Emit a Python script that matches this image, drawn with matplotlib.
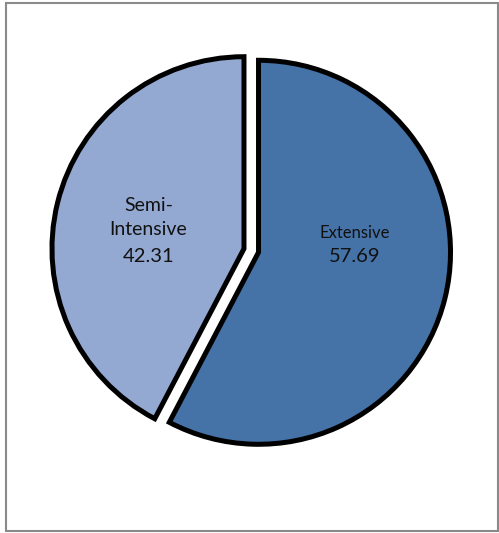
import matplotlib
matplotlib.use("Agg")
import matplotlib.pyplot as plt
from matplotlib.patches import Rectangle

# Share of farms by production system (%)
categories = ["Extensive", "Semi-Intensive"]
display_names = ["Extensive", "Semi-\nIntensive"]
values = [57.69, 42.31]
colors = ["#4572a7", "#94a9d2"]

W, H = 499, 533
fig = plt.figure(figsize=(W / 100, H / 100), dpi=100)
ax = fig.add_axes([0, 0, 1, 1])

cx, cy, R = 251.25, H - 250.5, 192.0
gap = 0.039 * R  # pull each slice slightly away from the centre
wedges, _ = ax.pie(
    values,
    colors=colors,
    startangle=90,
    counterclock=False,
    explode=[gap, gap],
    center=(cx, cy),
    radius=R,
    wedgeprops=dict(edgecolor="black", linewidth=3.6, joinstyle="miter"),
)

ax.set_xlim(0, W)
ax.set_ylim(0, H)
ax.set_aspect("equal")
ax.axis("off")

font = "Lato"
# label positions (relative to pie centre, in radius units)
name_pos = [(0.540, 0.091), (-0.535, 0.172)]
value_pos = [(0.540, -0.033), (-0.535, -0.029)]
name_sizes = [12, 14]
value_sizes = [14.5, 14.5]
for name, val, npos, vpos, ns, vs in zip(display_names, values, name_pos, value_pos,
                                         name_sizes, value_sizes):
    ax.text(cx + npos[0] * R, cy + npos[1] * R, name, ha="center", va="center",
            fontsize=ns, family=font, color="#111111", linespacing=1.45)
    ax.text(cx + vpos[0] * R, cy + vpos[1] * R, f"{val:.2f}", ha="center", va="center",
            fontsize=vs, family=font, color="#111111")

# chart-area frame
ax.add_patch(Rectangle((5.8, H - 531), 492.2, 528.3, fill=False,
                       edgecolor="#8a8a8a", linewidth=1.5, clip_on=False))

fig.savefig("out.png", dpi=100)
